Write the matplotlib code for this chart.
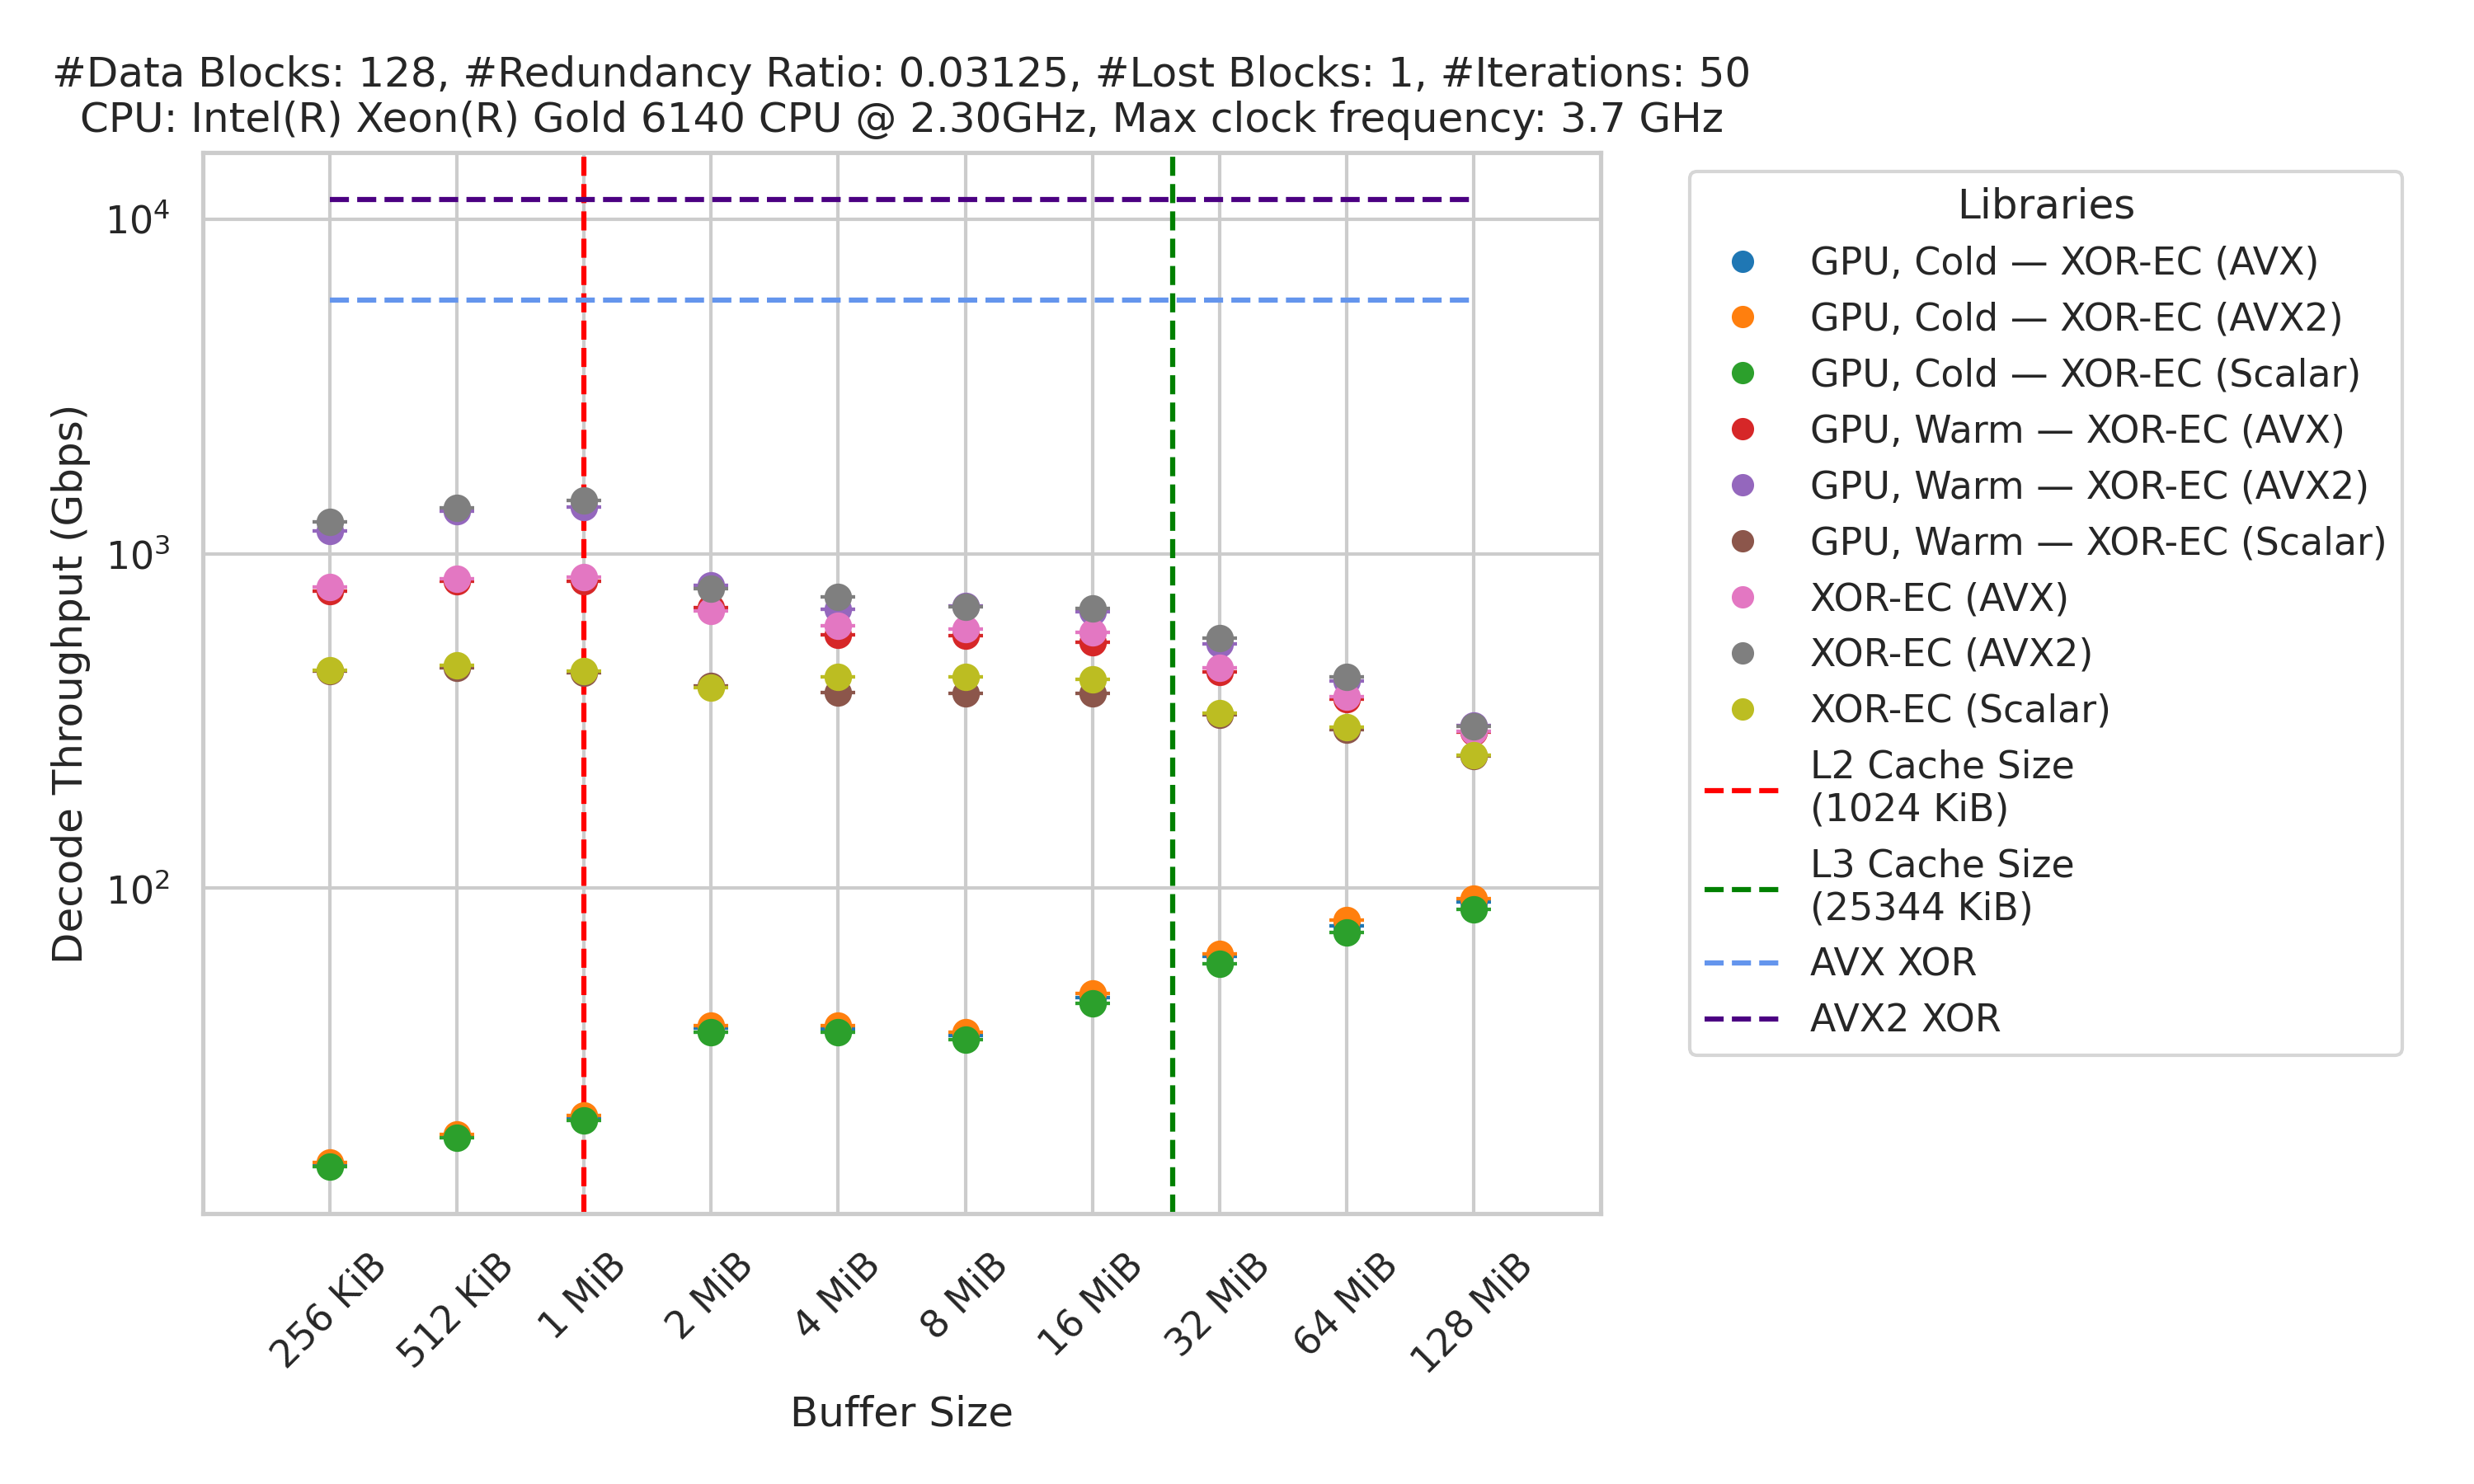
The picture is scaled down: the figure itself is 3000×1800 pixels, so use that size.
import numpy as np
import matplotlib
matplotlib.use("Agg")
import matplotlib.pyplot as plt
from matplotlib.lines import Line2D
import seaborn as sns

sns.set_theme(style="whitegrid", context="notebook")
plt.rcParams['font.family'] = ['DejaVu Sans']

buffer_labels = ["256 KiB", "512 KiB", "1 MiB", "2 MiB", "4 MiB", "8 MiB",
                 "16 MiB", "32 MiB", "64 MiB", "128 MiB"]
buffer_kib = [256, 512, 1024, 2048, 4096, 8192, 16384, 32768, 65536, 131072]

series_names = [
    "GPU, Cold — XOR-EC (AVX)",
    "GPU, Cold — XOR-EC (AVX2)",
    "GPU, Cold — XOR-EC (Scalar)",
    "GPU, Warm — XOR-EC (AVX)",
    "GPU, Warm — XOR-EC (AVX2)",
    "GPU, Warm — XOR-EC (Scalar)",
    "XOR-EC (AVX)",
    "XOR-EC (AVX2)",
    "XOR-EC (Scalar)",
]

gpu_cold_avx = [14.9, 18.1, 20.6, 38.1, 37.8, 36.2, 47.1, 62.5, 77.2, 90.6]
gpu_cold_avx2 = [15.1, 18.3, 20.9, 38.8, 38.7, 37.0, 48.3, 63.7, 80.1, 92.7]
gpu_cold_scalar = [14.7, 17.9, 20.2, 37.0, 37.0, 35.3, 45.3, 59.2, 73.6, 86.5]
gpu_warm_avx = [772, 826, 829, 690, 571, 569, 544, 442, 368, 293]
gpu_warm_avx2 = [1172, 1337, 1376, 802, 680, 697, 670, 536, 417, 307]
gpu_warm_scalar = [446, 455, 441, 402, 385, 382, 382, 329, 297, 248]
xorec_avx = [795, 841, 849, 674, 610, 596, 581, 455, 374, 294]
xorec_avx2 = [1245, 1368, 1442, 784, 744, 693, 687, 558, 427, 305]
xorec_scalar = [449, 463, 445, 397, 427, 427, 421, 333, 302, 250]

series_values = [gpu_cold_avx, gpu_cold_avx2, gpu_cold_scalar,
                 gpu_warm_avx, gpu_warm_avx2, gpu_warm_scalar,
                 xorec_avx, xorec_avx2, xorec_scalar]

l2_cache_kib = 1024
l3_cache_kib = 25344
avx_xor_gbps = 5740
avx2_xor_gbps = 11460

colors = sns.color_palette("tab10", 9)

fig = plt.figure(figsize=(10, 6), dpi=300)
ax = fig.add_axes([0.082, 0.182, 0.565, 0.715])

x = np.log2(np.array(buffer_kib) / buffer_kib[0])

handles = []
for name, vals, c in zip(series_names, series_values, colors):
    ax.errorbar(x, vals, yerr=np.zeros(len(vals)), fmt='o', color=c, ms=7,
                capsize=5, capthick=1.0, elinewidth=1.0, zorder=3)
    handles.append(Line2D([], [], marker='o', linestyle='none', color=c,
                          markersize=5.5, label=name))

h = ax.axvline(np.log2(l2_cache_kib / buffer_kib[0]), color='red', linestyle='--',
               lw=1.5, label="L2 Cache Size\n(1024 KiB)", zorder=2)
handles.append(h)
h = ax.axvline(np.log2(l3_cache_kib / buffer_kib[0]), color='green', linestyle='--',
               lw=1.5, label="L3 Cache Size\n(25344 KiB)", zorder=2)
handles.append(h)
ax.hlines(avx_xor_gbps, x[0], x[-1], colors='cornflowerblue', linestyles='--',
          lw=1.5, zorder=2)
handles.append(Line2D([], [], color='cornflowerblue', linestyle='--', lw=1.5,
                      label="AVX XOR"))
ax.hlines(avx2_xor_gbps, x[0], x[-1], colors='indigo', linestyles='--',
          lw=1.5, zorder=2)
handles.append(Line2D([], [], color='indigo', linestyle='--', lw=1.5,
                      label="AVX2 XOR"))

ax.set_yscale('log')
ax.set_ylim(10.6, 15800)
ax.set_xlim(-1, 10)
ax.set_xticks(x)
ax.set_xticklabels(buffer_labels, rotation=45)
ax.set_xlabel("Buffer Size")
ax.set_ylabel("Decode Throughput (Gbps)")
ax.set_title("#Data Blocks: 128, #Redundancy Ratio: 0.03125, #Lost Blocks: 1, #Iterations: 50\n"
             "CPU: Intel(R) Xeon(R) Gold 6140 CPU @ 2.30GHz, Max clock frequency: 3.7 GHz")

ax.legend(handles=handles, title="Libraries", loc='upper left',
          bbox_to_anchor=(1.05, 1))

fig.savefig("out.png", dpi=300)
